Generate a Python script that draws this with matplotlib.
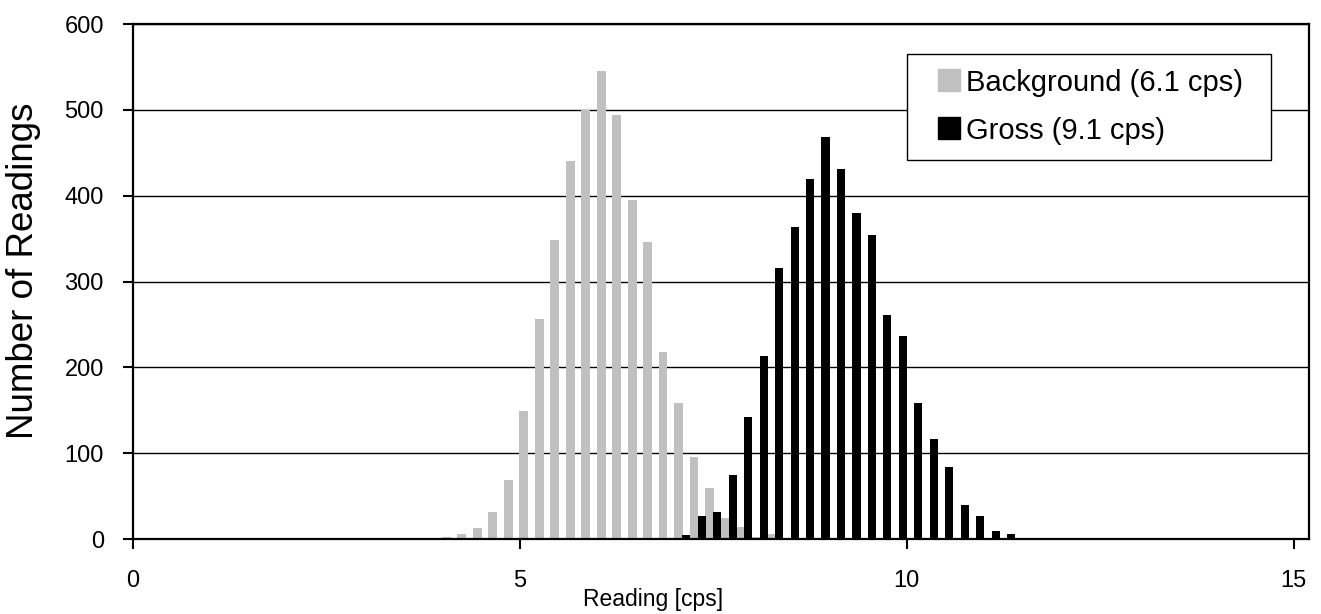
import numpy as np
import matplotlib
matplotlib.use("Agg")
import matplotlib.pyplot as plt
from matplotlib import font_manager
from matplotlib.lines import Line2D

plt.rcParams["font.family"] = ["Liberation Sans", "DejaVu Sans"]

# histogram bins (lower edge of each 0.2 cps bin) and counts
bg_bins = [4.0, 4.2, 4.4, 4.6, 4.8, 5.0, 5.2, 5.4, 5.6, 5.8, 6.0,
           6.2, 6.4, 6.6, 6.8, 7.0, 7.2, 7.4, 7.6, 7.8, 8.0, 8.2]
bg_counts = [2, 6, 13, 32, 69, 149, 256, 348, 440, 500, 545,
             494, 395, 346, 218, 159, 96, 60, 25, 14, 2, 6]

gross_bins = [7.0, 7.2, 7.4, 7.6, 7.8, 8.0, 8.2, 8.4, 8.6, 8.8, 9.0,
              9.2, 9.4, 9.6, 9.8, 10.0, 10.2, 10.4, 10.6, 10.8, 11.0, 11.2]
gross_counts = [5, 27, 32, 75, 142, 213, 316, 363, 420, 468, 431,
                380, 354, 261, 237, 158, 116, 84, 40, 27, 9, 6]

labels = ["Background (6.1 cps)", "Gross (9.1 cps)"]
colors = ["#c0c0c0", "black"]
xticks = [0, 5, 10, 15]
yticks = [0, 100, 200, 300, 400, 500, 600]

# axis text in the original is tall and narrow -> use the narrow face if we have it
names = {f.name for f in font_manager.fontManager.ttflist}
if "Liberation Sans Narrow" in names:
    axis_font = ["Liberation Sans Narrow", "DejaVu Sans"]
    tick_fs, xlab_fs = 20.5, 20
else:
    axis_font = ["Liberation Sans", "DejaVu Sans"]
    tick_fs, xlab_fs = 17, 16.5

fig = plt.figure(figsize=(13.21, 6.14), dpi=100)
ax = fig.add_axes([0.1007, 0.1221, 0.8903, 0.8388])

ax.bar(np.array(bg_bins) + 0.05, bg_counts, width=0.115, color=colors[0], zorder=2)
ax.bar(np.array(gross_bins) + 0.15, gross_counts, width=0.105, color=colors[1], zorder=3)

ax.set_xlim(0, 15.2)
ax.set_ylim(0, 600)
ax.set_xticks(xticks)
ax.set_yticks(yticks)
ax.yaxis.grid(True, color="black", linewidth=1)
ax.set_axisbelow(True)

for s in ax.spines.values():
    s.set_linewidth(1.6)
    s.set_color("black")

ax.tick_params(axis="both", direction="out", length=7, width=1.5)
ax.tick_params(axis="y", pad=14)
ax.tick_params(axis="x", pad=15)
for lab in ax.get_xticklabels() + ax.get_yticklabels():
    lab.set_family(axis_font)
    lab.set_fontsize(tick_fs)

ax.set_xlabel("Reading [cps]", fontsize=xlab_fs, family=axis_font)
ax.xaxis.set_label_coords(0.442, -0.118)
ax.xaxis.label.set_va("center")
ax.set_ylabel("Number of Readings", fontsize=26.5)
ax.yaxis.set_label_coords(-0.0935, 0.52)
ax.yaxis.label.set_va("center")

# legend box stretched to the original width, entries left aligned
handles = [Line2D([], [], marker="s", linestyle="none", markersize=15.8,
                  markerfacecolor=c, markeredgecolor=c) for c in colors]
leg = ax.legend(handles, labels, loc="upper left",
                bbox_to_anchor=(0.6582, 0.5, 0.3095, 0.4417), mode="expand",
                fontsize=21, frameon=True, fancybox=False, shadow=False,
                handlelength=1.88, handleheight=0.8, handletextpad=-0.36,
                borderpad=0.5, labelspacing=0.7, borderaxespad=0)
leg.get_frame().set_edgecolor("black")
leg.get_frame().set_linewidth(1)
leg.get_frame().set_alpha(1)

fig.savefig("out.png", dpi=100)
